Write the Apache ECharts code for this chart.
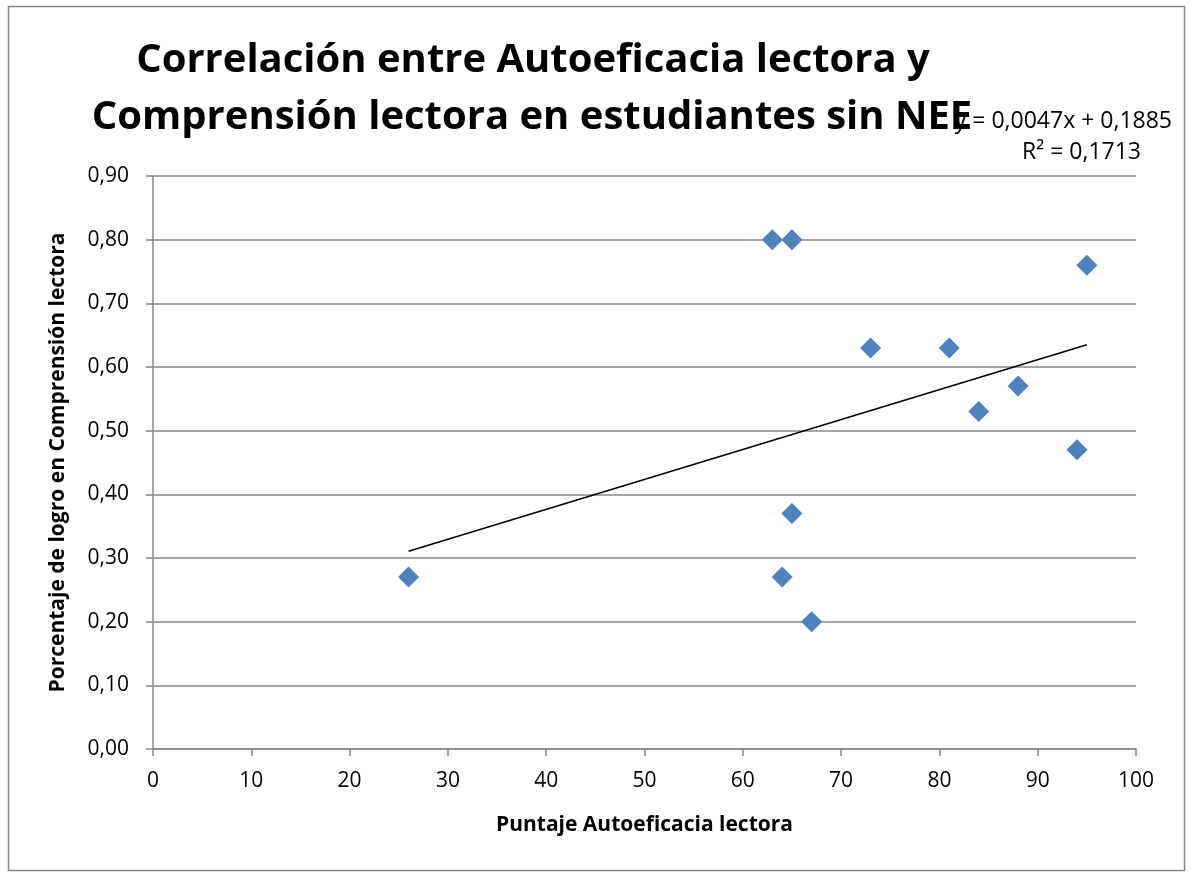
<!DOCTYPE html>
<html>
<head>
<meta charset="utf-8">
<style>
    html, body { margin: 0; padding: 0; background: #fff; }
    #chartsmain { width: 1191px; height: 873px; }
</style>
<script src="https://cdn.jsdelivr.net/npm/echarts@6/dist/echarts.min.js"></script>
</head>
<body>
<div id="chartsmain"></div>
<script>
    // datos
    var puntajeAutoeficacia = [26, 63, 65, 95, 73, 81, 88, 84, 94, 65, 64, 67];
    var logroComprension = [0.27, 0.80, 0.80, 0.76, 0.63, 0.63, 0.57, 0.53, 0.47, 0.37, 0.27, 0.20];
    var tendencia = { pendiente: 0.0047, intercepto: 0.1885, r2: 0.1713, desde: 26, hasta: 95 };
    var ticksX = [0, 10, 20, 30, 40, 50, 60, 70, 80, 90, 100];

    var fuente = '"Open Sans", "Liberation Sans", sans-serif';
    var puntos = puntajeAutoeficacia.map(function (x, i) { return [x, logroComprension[i]]; });
    var lineaTendencia = [tendencia.desde, tendencia.hasta].map(function (x) {
        return [x, tendencia.pendiente * x + tendencia.intercepto];
    });
    function coma(v, d) { return v.toFixed(d).replace('.', ','); }

    var chart = echarts.init(document.getElementById('chartsmain'));
    var option = {
        backgroundColor: '#fff',
        animation: false,
        grid: { left: 153, right: 55, top: 176, bottom: 124 },
        graphic: [
            { type: 'rect', shape: { x: 8.5, y: 6.5, width: 1176, height: 864 },
              style: { fill: 'none', stroke: '#888', lineWidth: 1.5 } },
            { type: 'text', x: 533, y: 41, style: { text: 'Correlación entre Autoeficacia lectora y',
              font: 'bold 40px ' + fuente, fill: '#000', align: 'center' } },
            { type: 'text', x: 532, y: 98, style: { text: 'Comprensión lectora en estudiantes sin NEE',
              font: 'bold 40px ' + fuente, fill: '#000', align: 'center' } },
            { type: 'text', x: 1172, y: 110, style: {
              text: 'y = ' + coma(tendencia.pendiente, 4) + 'x + ' + coma(tendencia.intercepto, 4),
              font: '23px ' + fuente, fill: '#000', align: 'right' } },
            { type: 'text', x: 1141, y: 141, style: { text: 'R² = ' + coma(tendencia.r2, 4),
              font: '23px ' + fuente, fill: '#000', align: 'right' } }
        ],
        xAxis: {
            type: 'value', min: 0, max: 100, interval: 10,
            name: 'Puntaje Autoeficacia lectora', nameLocation: 'middle', nameGap: 66,
            nameTextStyle: { fontFamily: fuente, fontWeight: 'bold', fontSize: 21, color: '#000' },
            axisLine: { show: true, lineStyle: { color: '#888', width: 1.5 } },
            axisTick: { show: true, length: 7, lineStyle: { color: '#888', width: 1.5 } },
            axisLabel: { fontFamily: fuente, fontSize: 21, color: '#000', margin: 22,
                formatter: function (v) { return ticksX.indexOf(v) >= 0 ? String(v) : ''; } },
            splitLine: { show: false }
        },
        yAxis: {
            type: 'value', min: 0, max: 0.9, interval: 0.1,
            name: 'Porcentaje de logro en Comprensión lectora', nameLocation: 'middle', nameGap: 84,
            nameTextStyle: { fontFamily: fuente, fontWeight: 'bold', fontSize: 21, color: '#000' },
            axisLine: { show: true, lineStyle: { color: '#888', width: 1.5 } },
            axisTick: { show: true, length: 7, inside: false, lineStyle: { color: '#888', width: 1.5 } },
            axisLabel: { fontFamily: fuente, fontSize: 21, color: '#000', margin: 24,
                formatter: function (v) { return coma(v, 2); } },
            splitLine: { show: true, lineStyle: { color: '#888', width: 1.5 } }
        },
        series: [
            {
                type: 'scatter', data: puntos, symbol: 'diamond', symbolSize: [21, 21],
                itemStyle: { color: '#4F81BD', opacity: 1 }, z: 3
            },
            {
                type: 'line', data: lineaTendencia, symbol: 'none',
                lineStyle: { color: '#000', width: 1.5 }, z: 4
            }
        ]
    };
    chart.setOption(option);
</script>
</body>
</html>
